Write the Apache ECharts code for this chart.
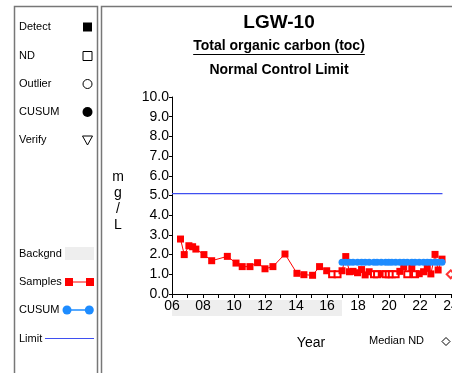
<!DOCTYPE html>
<html><head><meta charset="utf-8">
<script src="https://cdn.jsdelivr.net/npm/echarts@6/dist/echarts.min.js"></script>
<style>html,body{margin:0;padding:0;background:#fff}#c{width:452px;height:373px}</style>
</head><body><div id="c"></div>
<script>
var FONT = 'Liberation Sans, Arial, sans-serif';
// Sample dates (decimal years, 2000-based) and values (mg/L); ndFlags: 1 = non-detect
var sampleYears = [6.55,6.79,7.09,7.33,7.54,8.06,8.56,9.57,10.13,10.53,11.03,11.52,12.0,12.51,13.29,14.06,14.51,15.07,15.52,15.98,16.33,16.68,16.97,17.21,17.45,17.68,17.97,18.23,18.46,18.72,19.03,19.23,19.5,19.78,19.98,20.18,20.43,20.7,20.95,21.18,21.47,21.68,21.95,22.23,22.47,22.7,22.97,23.17,23.42];
var sampleValues = [2.79,2.0,2.45,2.4,2.28,2.0,1.69,1.91,1.57,1.39,1.39,1.59,1.28,1.39,2.03,1.05,0.98,0.95,1.39,1.18,1.0,1.0,1.18,1.9,1.13,1.15,1.08,1.24,0.97,1.13,1.0,1.0,1.03,1.0,1.0,1.0,1.0,1.15,1.38,1.0,1.34,1.0,1.03,1.13,1.3,1.02,2.01,1.22,1.77];
var ndFlags = [0,0,0,0,0,0,0,0,0,0,0,0,0,0,0,0,0,0,0,0,1,1,0,0,0,0,0,0,0,0,1,1,0,1,1,1,1,0,0,1,0,1,0,0,0,0,0,0,0];
var cusumStartYear = 16.97;
var cusumValue = 1.61;
var limitYears = [6.0, 23.45];
var limitValue = 5.1;
var medianNDYear = [23.98];
var medianNDValue = [1.0];
var backgroundPeriod = [6.0, 16.97];
var yTicks = [0,10,1];
var xTicks = [6,24,1];

var sampleData = sampleYears.map(function(x,i){
  var d = {value:[x, sampleValues[i]]};
  if (ndFlags[i]) { d.symbol = 'emptyRect'; d.symbolSize = 6; }
  return d;
});
var cusumData = [];
sampleYears.forEach(function(x){ if (x >= cusumStartYear) cusumData.push([x, cusumValue]); });
var limitData = limitYears.map(function(x){ return [x, limitValue]; });
var medianData = medianNDYear.map(function(x,i){ return [x, medianNDValue[i]]; });

var chart = echarts.init(document.getElementById('c'), null, {renderer:'canvas'});

function measure(txt, font){
  var cv = document.createElement('canvas').getContext('2d');
  cv.font = font; return cv.measureText(txt).width;
}
var subTxt = 'Total organic carbon (toc)';
var subW = measure(subTxt, 'bold 14px ' + FONT);
var CX = 279;
var LIMIT_C = '#3f4ff0';
var CUSUM_C = '#1e8cff';

var graphics = [
  {type:'rect', shape:{x:14.5,y:6.5,width:83,height:380}, style:{fill:'#fff',stroke:'#777',lineWidth:1.5}, z:-10},
  {type:'rect', shape:{x:101.5,y:6.5,width:360,height:380}, style:{fill:'#fff',stroke:'#777',lineWidth:1.5}, z:-10},
  {type:'text', x:CX, y:23, style:{text:'LGW-10', font:'bold 19px '+FONT, fill:'#000', align:'center', verticalAlign:'middle'}},
  {type:'text', x:CX, y:46, style:{text:subTxt, font:'bold 14px '+FONT, fill:'#000', align:'center', verticalAlign:'middle'}},
  {type:'line', shape:{x1:CX-subW/2, y1:54.5, x2:CX+subW/2, y2:54.5}, style:{stroke:'#000', lineWidth:1}},
  {type:'text', x:CX, y:70, style:{text:'Normal Control Limit', font:'bold 14px '+FONT, fill:'#000', align:'center', verticalAlign:'middle'}},
  {type:'text', x:118, y:201, style:{text:'m\ng\n/\nL', font:'14px '+FONT, lineHeight:16, fill:'#000', align:'center', verticalAlign:'middle'}},
  {type:'text', x:311, y:343, style:{text:'Year', font:'14px '+FONT, fill:'#000', align:'center', verticalAlign:'middle'}},
  {type:'text', x:369, y:341, style:{text:'Median ND', font:'11px '+FONT, fill:'#000', align:'left', verticalAlign:'middle'}},
  {type:'polygon', shape:{points:[[446,337.5],[450,341.5],[446,345.5],[442,341.5]]}, style:{fill:'#fff',stroke:'#000',lineWidth:1}},
  // legend panel
  {type:'text', x:19, y:27, style:{text:'Detect', font:'11px '+FONT, fill:'#000', verticalAlign:'middle'}},
  {type:'rect', shape:{x:83,y:22.5,width:9,height:9}, style:{fill:'#000'}},
  {type:'text', x:19, y:56, style:{text:'ND', font:'11px '+FONT, fill:'#000', verticalAlign:'middle'}},
  {type:'rect', shape:{x:83,y:51.5,width:9,height:9}, style:{fill:'#fff',stroke:'#000',lineWidth:1}},
  {type:'text', x:19, y:83.5, style:{text:'Outlier', font:'11px '+FONT, fill:'#000', verticalAlign:'middle'}},
  {type:'circle', shape:{cx:87.5,cy:84,r:4.5}, style:{fill:'#fff',stroke:'#000',lineWidth:1}},
  {type:'text', x:19, y:112, style:{text:'CUSUM', font:'11px '+FONT, fill:'#000', verticalAlign:'middle'}},
  {type:'circle', shape:{cx:87.5,cy:112,r:5}, style:{fill:'#000'}},
  {type:'text', x:19, y:140, style:{text:'Verify', font:'11px '+FONT, fill:'#000', verticalAlign:'middle'}},
  {type:'polygon', shape:{points:[[82.5,136],[92.5,136],[87.5,145]]}, style:{fill:'#fff',stroke:'#000',lineWidth:1}},
  {type:'text', x:19, y:253.5, style:{text:'Backgnd', font:'11px '+FONT, fill:'#000', verticalAlign:'middle'}},
  {type:'rect', shape:{x:65,y:247,width:29,height:13}, style:{fill:'#eeeeee'}},
  {type:'text', x:19, y:282, style:{text:'Samples', font:'11px '+FONT, fill:'#000', verticalAlign:'middle'}},
  {type:'line', shape:{x1:69,y1:282,x2:90,y2:282}, style:{stroke:'#ff0000',lineWidth:1}},
  {type:'rect', shape:{x:65,y:278,width:8,height:8}, style:{fill:'#ff0000'}},
  {type:'rect', shape:{x:86,y:278,width:8,height:8}, style:{fill:'#ff0000'}},
  {type:'text', x:19, y:310, style:{text:'CUSUM', font:'11px '+FONT, fill:'#000', verticalAlign:'middle'}},
  {type:'line', shape:{x1:67,y1:310,x2:89,y2:310}, style:{stroke:CUSUM_C,lineWidth:1.5}},
  {type:'circle', shape:{cx:67,cy:310,r:4.5}, style:{fill:CUSUM_C}},
  {type:'circle', shape:{cx:89.3,cy:310,r:4.5}, style:{fill:CUSUM_C}},
  {type:'text', x:19, y:338.5, style:{text:'Limit', font:'11px '+FONT, fill:'#000', verticalAlign:'middle'}},
  {type:'line', shape:{x1:45,y1:338.5,x2:94,y2:338.5}, style:{stroke:LIMIT_C,lineWidth:1}}
];

var option = {
  animation:false,
  backgroundColor:'#fff',
  textStyle:{fontFamily:FONT},
  grid:{left:172, top:97, width:279, height:197, containLabel:false, outerBoundsMode:'none'},
  xAxis:{type:'value', min:xTicks[0], max:xTicks[1], interval:xTicks[2],
    axisLine:{lineStyle:{color:'#000',width:1}},
    axisTick:{length:4, lineStyle:{color:'#000'}},
    splitLine:{show:false},
    axisLabel:{color:'#000', fontSize:14, fontFamily:FONT, margin:5, showMaxLabel:true,
      formatter:function(v){ return (v%2===0) ? (v<10?'0'+v:''+v) : ''; }}},
  yAxis:{type:'value', min:yTicks[0], max:yTicks[1], interval:yTicks[2],
    axisLine:{show:true, lineStyle:{color:'#000',width:1}},
    axisTick:{show:true, length:3, lineStyle:{color:'#000'}},
    splitLine:{show:false},
    axisLabel:{color:'#000', fontSize:14, fontFamily:FONT, margin:3,
      formatter:function(v){ return v.toFixed(1); }}},
  series:[
    {name:'Limit', type:'line', data:limitData, symbol:'none', itemStyle:{color:LIMIT_C}, lineStyle:{color:LIMIT_C, width:1.2}, z:2, silent:true},
    {name:'Samples', type:'line', data:sampleData, symbol:'rect', symbolSize:7,
      itemStyle:{color:'#ff0000'}, lineStyle:{color:'#ff0000', width:1}, z:3},
    {name:'CUSUM', type:'line', data:cusumData, symbol:'circle', symbolSize:7,
      itemStyle:{color:CUSUM_C}, lineStyle:{color:CUSUM_C, width:2}, z:4},
    {name:'Median ND', type:'scatter', data:medianData, symbol:'emptyDiamond', symbolSize:8,
      itemStyle:{color:'#ff0000'}, z:3}
  ],
  graphic:graphics
};
chart.setOption(option);
var bx0 = chart.convertToPixel({xAxisIndex:0}, backgroundPeriod[0]);
var bx1 = chart.convertToPixel({xAxisIndex:0}, backgroundPeriod[1]);
graphics.push({type:'rect', shape:{x:bx0, y:300, width:bx1-bx0, height:16}, style:{fill:'#eeeeee'}, z:-5});
chart.setOption({graphic:graphics});
</script></body></html>
